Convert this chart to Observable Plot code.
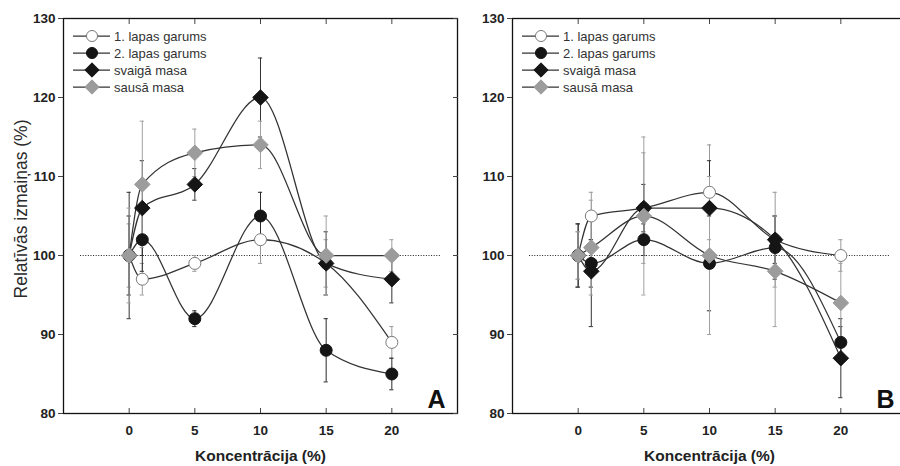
<!DOCTYPE html>
<html>
<head>
<meta charset="utf-8">
<script src="https://cdn.jsdelivr.net/npm/d3@7"></script>
<script src="https://cdn.jsdelivr.net/npm/@observablehq/plot@0.6"></script>
<style>
  html, body { margin: 0; padding: 0; background: #fff; overflow: hidden; }
  #root { position: relative; width: 900px; height: 466px; overflow: hidden; font-family: "Liberation Sans", Arial, sans-serif; }
  .panel { position: absolute; top: 0; width: 460px; height: 466px; }
  .panel > svg { max-width: none !important; }
  .legend { position: absolute; top: 26px; overflow: visible; }
</style>
</head>
<body>
<div id="root">
  <div id="pa" class="panel" style="left:0px"></div>
  <div id="pb" class="panel" style="left:449px"></div>
</div>
<script>
// ---------------- data ----------------
const conc = [0, 1, 5, 10, 15, 20];
const seriesNames = ["1. lapas garums", "2. lapas garums", "svaigā masa", "sausā masa"];
const xTicks = [0, 5, 10, 15, 20];
const yTicks = [80, 90, 100, 110, 120, 130];
const xLabel = "Koncentrācija (%)";
const yLabel = "Relatīvās izmaiņas (%)";
const panelLetters = ["A", "B"];
const refValue = 100;

// Panel A
const aLapas1 = [100, 97, 99, 102, 99, 89];
const aLapas2 = [100, 102, 92, 105, 88, 85];
const aSvaiga = [100, 106, 109, 120, 99, 97];
const aSausa  = [100, 109, 113, 114, 100, 100];
const aLapas1Err = [4, 2, 1, 3, 3, 2];
const aLapas2Err = [5, 4, 1, 3, 4, 2];
const aSvaigaErr = [8, 6, 2, 5, 4, 3];
const aSausaErr  = [6, 8, 3, 3, 5, 2];

// Panel B
const bLapas1 = [100, 105, 106, 108, 102, 100];
const bLapas2 = [100, 99, 102, 99, 101, 89];
const bSvaiga = [100, 98, 106, 106, 102, 87];
const bSausa  = [100, 101, 105, 100, 98, 94];
const bLapas1Err = [3, 3, 7, 6, 6, 2];
const bLapas2Err = [4, 3, 2, 6, 4, 2];
const bSvaigaErr = [4, 7, 3, 6, 3, 5];
const bSausaErr  = [3, 6, 10, 10, 7, 5];

// ---------------- styles ----------------
const styles = [
  {symbol: "circle",   r: 6.0, fill: "#ffffff", stroke: "#7a7a7a", err: "#9a9a9a"},
  {symbol: "circle",   r: 6.0, fill: "#151515", stroke: "#151515", err: "#2a2a2a"},
  {symbol: "diamond2", r: 7.0, fill: "#151515", stroke: "#151515", err: "#333333"},
  {symbol: "diamond2", r: 7.0, fill: "#9c9c9c", stroke: "#9c9c9c", err: "#a0a0a0"}
];

function buildRows(valueLists, errLists) {
  return valueLists.map((vals, k) => vals.map((v, i) => ({
    series: seriesNames[k], x: conc[i], y: v, err: errLists[k][i]
  })));
}

const panelA = buildRows([aLapas1, aLapas2, aSvaiga, aSausa], [aLapas1Err, aLapas2Err, aSvaigaErr, aSausaErr]);
const panelB = buildRows([bLapas1, bLapas2, bSvaiga, bSausa], [bLapas1Err, bLapas2Err, bSvaigaErr, bSausaErr]);

const font = "'Liberation Sans', Arial, Helvetica, sans-serif";

function makePanel(seriesRows, letter, withYLabel) {
  const errMarks = [], lineMarks = [], dotMarks = [];
  seriesRows.forEach((rows, k) => {
    const s = styles[k];
    errMarks.push(Plot.ruleX(rows, {x: "x", y1: d => d.y - d.err, y2: d => d.y + d.err, stroke: s.err, strokeWidth: 1}));
    errMarks.push(Plot.ruleY(rows, {y: d => d.y + d.err, x1: d => d.x - 0.16, x2: d => d.x + 0.16, stroke: s.err, strokeWidth: 1}));
    errMarks.push(Plot.ruleY(rows, {y: d => d.y - d.err, x1: d => d.x - 0.16, x2: d => d.x + 0.16, stroke: s.err, strokeWidth: 1}));
    lineMarks.push(Plot.line(rows, {x: "x", y: "y", curve: "monotone-x", stroke: "#333", strokeWidth: 1.25}));
    dotMarks.push(Plot.dot(rows, {x: "x", y: "y", r: s.r, symbol: s.symbol, fill: s.fill, stroke: s.stroke, strokeWidth: 1}));
  });
  const marks = [
    Plot.ruleY([refValue], {x1: -3.7, x2: 23.7, stroke: "#222", strokeWidth: 1, strokeDasharray: "1,1.6"}),
    ...errMarks, ...lineMarks, ...dotMarks,
    Plot.frame({stroke: "#111", strokeWidth: 1.3}),
    Plot.axisX(xTicks, {anchor: "bottom", tickSize: 5, dy: -5, text: null, label: null, stroke: "#444"}),
    Plot.axisX(xTicks, {anchor: "top", tickSize: 5, dy: 5, text: null, label: null, stroke: "#444"}),
    Plot.axisY(yTicks, {anchor: "right", tickSize: 5, dx: -5, text: null, label: null, stroke: "#444"}),
    Plot.axisY(yTicks, {anchor: "left", tickSize: 5, tickPadding: 3, label: null, fontSize: 13.5, fontWeight: "bold", fill: "#222", stroke: "#444"}),
    Plot.axisX(xTicks, {anchor: "bottom", tickSize: 0, tickPadding: 12, label: null, fontSize: 13.5, fontWeight: "bold", fill: "#222"}),
    Plot.text([xLabel], {frameAnchor: "bottom", dy: 43, text: d => d, textAnchor: "middle", lineAnchor: "middle", fontSize: 15.5, fontWeight: "bold", fill: "#222"}),
    Plot.text([letter], {frameAnchor: "bottom-right", dx: -12, dy: -6, text: d => d, textAnchor: "end", lineAnchor: "bottom", fontSize: 25, fontWeight: "bold", fill: "#111"})
  ];
  if (withYLabel) {
    marks.push(Plot.text([yLabel], {frameAnchor: "left", dx: -42, dy: -7, rotate: -90, text: d => d, textAnchor: "middle", lineAnchor: "middle", fontSize: 17.5, fill: "#2a2a2a"}));
  }
  return Plot.plot({
    width: 460, height: 466,
    marginLeft: 63, marginRight: 3, marginTop: 18, marginBottom: 53,
    x: {domain: [-5, 25]},
    y: {domain: [80, 130]},
    style: {fontFamily: font, background: "transparent", overflow: "visible", maxWidth: "none"},
    marks
  });
}

function addLegend(container) {
  const svg = d3.select(container).append("svg")
    .attr("class", "legend")
    .attr("width", 170).attr("height", 80)
    .style("left", "63px");
  seriesNames.forEach((name, i) => {
    const s = styles[i];
    const y = 10 + i * 17;
    svg.append("line").attr("x1", 10).attr("x2", 47).attr("y1", y).attr("y2", y)
      .attr("stroke", "#333").attr("stroke-width", 1.25);
    const type = s.symbol === "circle" ? d3.symbolCircle : d3.symbolDiamond2;
    svg.append("path")
      .attr("d", d3.symbol(type, Math.PI * s.r * s.r * 0.85)())
      .attr("transform", `translate(29,${y})`)
      .attr("fill", s.fill).attr("stroke", s.stroke).attr("stroke-width", 1);
    svg.append("text").attr("x", 51).attr("y", y).attr("dy", "0.35em")
      .attr("font-family", font).attr("font-size", 13).attr("fill", "#333")
      .text(name);
  });
}

const pa = document.getElementById("pa");
const pb = document.getElementById("pb");
pa.appendChild(makePanel(panelA, panelLetters[0], true));
pb.appendChild(makePanel(panelB, panelLetters[1], false));
addLegend(pa);
addLegend(pb);
</script>
</body>
</html>
